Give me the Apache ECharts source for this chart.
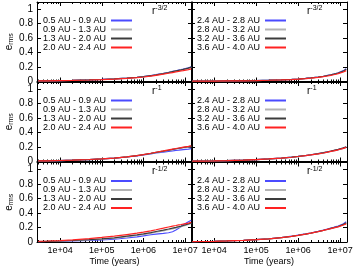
<!DOCTYPE html>
<html><head><meta charset="utf-8">
<script src="https://cdn.jsdelivr.net/npm/echarts@6/dist/echarts.min.js"></script>
<style>html,body{margin:0;padding:0;background:#fff}#c{width:360px;height:270px}</style>
</head><body><div id="c"></div>
<script>
// ---------- data ----------
const times = [3000, 5000, 1e4, 2e4, 5e4, 1e5, 2e5, 4e5, 7e5, 1e6, 1.5e6, 2e6, 3e6, 4e6, 5e6, 6e6, 7e6, 8e6, 9e6, 1e7, 1.2e7, 1.4e7];
const innerNames = ['0.5 AU - 0.9 AU', '0.9 AU - 1.3 AU', '1.3 AU - 2.0 AU', '2.0 AU - 2.4 AU'];
const outerNames = ['2.4 AU - 2.8 AU', '2.8 AU - 3.2 AU', '3.2 AU - 3.6 AU', '3.6 AU - 4.0 AU'];
const powerLabels = ['-3/2', '-1', '-1/2'];
const xTickLabels = ['1e+04', '1e+05', '1e+06', '1e+07'];
const yTickLabels = ['0', '0.2', '0.4', '0.6', '0.8', '1'];

// r^-3/2, inner annuli (blue, light gray, dark gray, red)
const r32Inner = [
  [0.008,0.010,0.013,0.017,0.023,0.029,0.037,0.048,0.059,0.068,0.082,0.094,0.112,0.126,0.140,0.148,0.158,0.166,0.171,0.178,0.190,0.204],
  [0.008,0.010,0.012,0.016,0.022,0.028,0.036,0.046,0.057,0.065,0.079,0.091,0.108,0.122,0.135,0.144,0.151,0.160,0.166,0.172,0.183,0.196],
  [0.008,0.010,0.013,0.016,0.022,0.028,0.036,0.047,0.058,0.067,0.080,0.092,0.110,0.124,0.136,0.146,0.154,0.161,0.168,0.175,0.186,0.199],
  [0.008,0.009,0.012,0.015,0.021,0.027,0.034,0.044,0.054,0.062,0.075,0.086,0.101,0.114,0.124,0.132,0.139,0.146,0.151,0.157,0.165,0.174]
];
// r^-3/2, outer annuli
const r32Outer = [
  [0.004,0.005,0.006,0.008,0.011,0.014,0.018,0.023,0.029,0.034,0.042,0.050,0.062,0.073,0.084,0.093,0.102,0.111,0.120,0.128,0.150,0.175],
  [0.004,0.005,0.006,0.008,0.011,0.013,0.017,0.022,0.028,0.033,0.041,0.048,0.060,0.071,0.081,0.090,0.099,0.107,0.115,0.123,0.142,0.165],
  [0.004,0.005,0.006,0.008,0.011,0.014,0.018,0.023,0.029,0.034,0.042,0.049,0.061,0.072,0.083,0.092,0.101,0.109,0.117,0.126,0.146,0.170],
  [0.004,0.005,0.006,0.008,0.010,0.013,0.017,0.022,0.027,0.032,0.039,0.046,0.057,0.067,0.076,0.085,0.093,0.100,0.108,0.115,0.132,0.150]
];
// r^-1, inner annuli
const r1Inner = [
  [0.008,0.010,0.013,0.018,0.027,0.036,0.046,0.062,0.078,0.090,0.105,0.118,0.130,0.140,0.148,0.154,0.158,0.162,0.165,0.168,0.172,0.178],
  [0.008,0.010,0.013,0.018,0.027,0.036,0.047,0.063,0.080,0.093,0.110,0.123,0.140,0.152,0.162,0.170,0.177,0.183,0.188,0.192,0.198,0.205],
  [0.008,0.010,0.013,0.018,0.027,0.036,0.047,0.064,0.081,0.094,0.112,0.126,0.143,0.156,0.167,0.176,0.183,0.189,0.194,0.198,0.205,0.212],
  [0.008,0.010,0.014,0.019,0.028,0.037,0.048,0.065,0.082,0.096,0.114,0.128,0.146,0.160,0.171,0.180,0.187,0.193,0.198,0.203,0.210,0.218]
];
// r^-1, outer annuli
const r1Outer = [
  [0.005,0.006,0.009,0.013,0.020,0.027,0.035,0.047,0.060,0.070,0.082,0.092,0.108,0.120,0.132,0.142,0.150,0.158,0.165,0.172,0.185,0.200],
  [0.005,0.006,0.009,0.013,0.019,0.026,0.034,0.046,0.058,0.068,0.080,0.090,0.105,0.117,0.128,0.138,0.146,0.154,0.161,0.168,0.181,0.196],
  [0.005,0.006,0.009,0.013,0.020,0.027,0.035,0.047,0.060,0.070,0.083,0.093,0.109,0.122,0.134,0.144,0.153,0.161,0.168,0.175,0.189,0.205],
  [0.005,0.006,0.009,0.013,0.020,0.027,0.035,0.046,0.059,0.069,0.081,0.091,0.106,0.118,0.129,0.139,0.147,0.155,0.162,0.169,0.182,0.195]
];
// r^-1/2, inner annuli
const r12Inner = [
  [0.005,0.007,0.010,0.014,0.021,0.028,0.038,0.055,0.072,0.085,0.100,0.110,0.120,0.128,0.142,0.165,0.190,0.215,0.238,0.258,0.280,0.300],
  [0.006,0.008,0.012,0.018,0.028,0.038,0.052,0.072,0.090,0.102,0.120,0.135,0.155,0.170,0.182,0.192,0.202,0.212,0.220,0.228,0.242,0.258],
  [0.007,0.010,0.014,0.021,0.032,0.043,0.058,0.080,0.098,0.112,0.130,0.145,0.165,0.180,0.193,0.203,0.212,0.220,0.228,0.236,0.250,0.265],
  [0.010,0.014,0.020,0.030,0.047,0.063,0.080,0.103,0.122,0.136,0.155,0.170,0.192,0.208,0.220,0.228,0.236,0.242,0.248,0.254,0.262,0.272]
];
// r^-1/2, outer annuli
const r12Outer = [
  [0.005,0.007,0.010,0.015,0.024,0.034,0.045,0.062,0.080,0.095,0.112,0.125,0.148,0.165,0.180,0.192,0.202,0.212,0.220,0.228,0.252,0.280],
  [0.005,0.007,0.010,0.015,0.023,0.032,0.043,0.060,0.077,0.091,0.108,0.121,0.142,0.159,0.173,0.185,0.195,0.204,0.212,0.220,0.240,0.262],
  [0.005,0.007,0.010,0.015,0.024,0.033,0.044,0.061,0.079,0.093,0.110,0.123,0.145,0.162,0.176,0.188,0.198,0.207,0.215,0.223,0.244,0.265],
  [0.005,0.007,0.010,0.015,0.023,0.033,0.044,0.060,0.078,0.092,0.109,0.122,0.143,0.160,0.174,0.185,0.195,0.203,0.210,0.218,0.235,0.250]
];

// ---------- layout / style ----------
const panels = [
  {data: r32Inner, names: innerNames, row: 0, col: 0},
  {data: r32Outer, names: outerNames, row: 0, col: 1},
  {data: r1Inner,  names: innerNames, row: 1, col: 0},
  {data: r1Outer,  names: outerNames, row: 1, col: 1},
  {data: r12Inner, names: innerNames, row: 2, col: 0},
  {data: r12Outer, names: outerNames, row: 2, col: 1}
];
const colors = ['#4b4bff', '#b3b3b3', '#3c3c3c', '#ff2222'];
const FONT = 'Liberation Sans, Arial, sans-serif';
const colLeft = [37, 191], colWidth = [155, 156];
const rowTop = [2, 82, 162.5], rowHeight = 79.5;
const xMin = 2800, xMax = 1.46e7;

const grid = [], xAxis = [], yAxis = [], series = [], legend = [], title = [];
panels.forEach((p, i) => {
  const L = colLeft[p.col], W = colWidth[p.col], T = rowTop[p.row];
  grid.push({left: L, top: T, width: W, height: rowHeight, outerBoundsMode: 'none', containLabel: false});
  const isBottom = p.row === 2, isLeft = p.col === 0;
  const axLine = {show: true, onZero: false, lineStyle: {color: '#000', width: 1}};
  const xBase = (pos, lab) => ({
    type: 'log', logBase: 10, gridIndex: i, position: pos, min: xMin, max: xMax,
    axisLine: axLine,
    axisTick: {show: true, inside: true, length: 4, lineStyle: {color: '#000'}},
    minorTick: {show: true, splitNumber: 9, length: 2, lineStyle: {color: '#000'}},
    splitLine: {show: false}, minorSplitLine: {show: false},
    axisLabel: {show: lab, showMinLabel: false, showMaxLabel: false, margin: 4,
      fontSize: 9, fontFamily: FONT, color: '#000',
      formatter: v => xTickLabels[Math.round(Math.log10(v)) - 4] || ''},
    name: (lab ? 'Time (years)' : ''), nameLocation: 'middle', nameGap: 15,
    nameTextStyle: {fontSize: 9, fontFamily: FONT, color: '#000'}
  });
  xAxis.push(xBase('bottom', isBottom));
  xAxis.push(xBase('top', false));
  const yBase = (pos, lab, visible) => ({
    type: 'value', gridIndex: i, position: pos, min: 0, max: 1.1, interval: 0.2,
    axisLine: axLine,
    axisTick: {show: true, inside: true, length: 4, lineStyle: {color: '#000'}},
    splitLine: {show: false},
    axisLabel: {show: lab, showMaxLabel: false, margin: 4, fontSize: 10, fontFamily: FONT,
      color: visible ? '#000' : 'rgba(255,255,255,0)',
      formatter: v => yTickLabels[Math.round(v / 0.2)] || ''},
    name: visible ? '{e|e}{s|rms}' : '', nameLocation: 'middle', nameGap: 22, nameRotate: 90,
    nameTextStyle: {fontFamily: FONT, color: '#000', rich: {
      e: {fontSize: 10, lineHeight: 12, fontFamily: FONT, color: '#000'},
      s: {fontSize: 7, lineHeight: 7, verticalAlign: 'bottom', fontFamily: FONT, color: '#000'}}}
  });
  yAxis.push(yBase('left', true, isLeft));
  yAxis.push(yBase('right', false, false));
  p.data.forEach((arr, k) => {
    series.push({
      type: 'line', name: p.names[k], xAxisIndex: 2 * i, yAxisIndex: 2 * i,
      data: times.map((t, j) => [t, arr[j]]),
      showSymbol: false, symbol: 'none', silent: true,
      lineStyle: {color: colors[k], width: 1.2}, itemStyle: {color: colors[k]}
    });
  });
  legend.push({
    orient: 'vertical', align: 'right', left: L + 6, top: T + 14, padding: 0,
    itemGap: 0, itemWidth: 21, itemHeight: 2, icon: 'rect', selectedMode: false,
    data: p.names,
    textStyle: {fontSize: 9, lineHeight: 7.7, fontFamily: FONT, color: '#000'}
  });
  title.push({
    text: '{r|r}{s|' + powerLabels[p.row] + '}', left: L + W - 40, top: T + 3, padding: 0,
    textStyle: {fontWeight: 'normal', rich: {
      r: {fontSize: 10, lineHeight: 12, fontWeight: 'normal', fontFamily: FONT, color: '#000'},
      s: {fontSize: 7, lineHeight: 7, verticalAlign: 'top', fontWeight: 'normal', fontFamily: FONT, color: '#000'}}}
  });
});

const chart = echarts.init(document.getElementById('c'), null, {renderer: 'canvas'});
chart.setOption({animation: false, backgroundColor: '#fff', grid, xAxis, yAxis, series, legend, title});
</script></body></html>
